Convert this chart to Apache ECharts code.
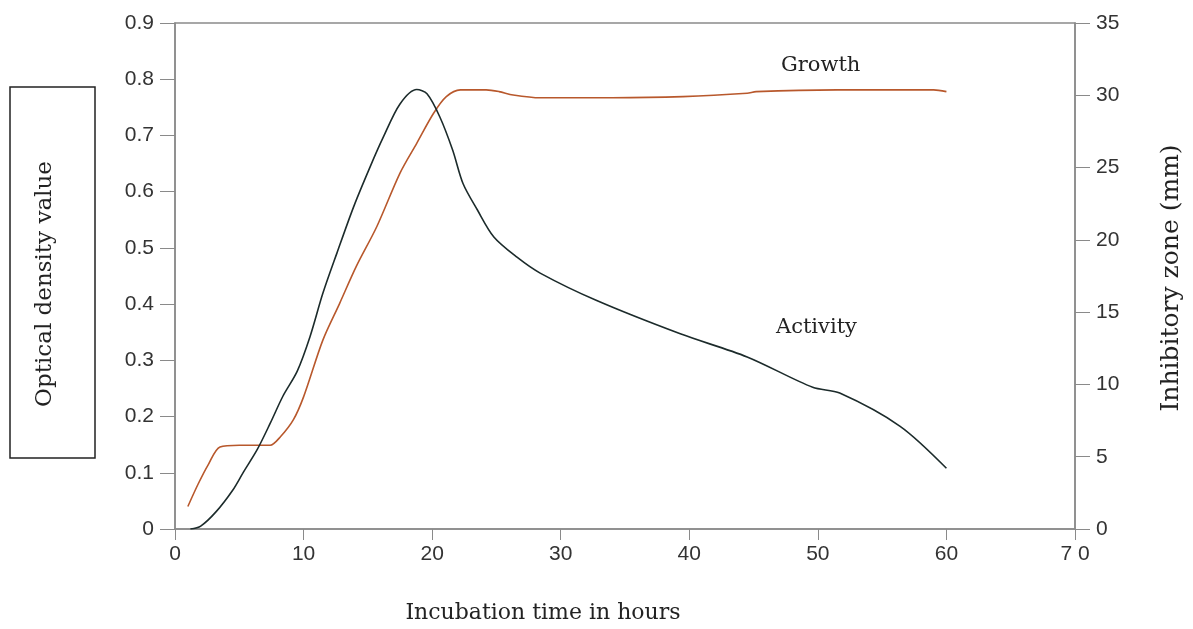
<!DOCTYPE html>
<html>
<head>
<meta charset="utf-8">
<script src="https://cdn.jsdelivr.net/npm/echarts@6/dist/echarts.min.js"></script>
<style>
  html, body { margin: 0; padding: 0; background: #fff; }
  #main { width: 1193px; height: 629px; }
</style>
</head>
<body>
<div id="main"></div>
<script>
// growth: optical density (left axis)
const growthHours = [1.0, 1.8, 2.6, 3.5, 5.0, 6.5, 7.4, 8.2, 9.2, 10.0, 11.5, 12.8, 14.1, 15.7, 17.5, 18.8, 20.1, 21.1, 22.2, 24.2, 25.2, 26.3, 28.4, 34.0, 39.5, 44.5, 45.2, 51.5, 59.0, 60.0]
const growthOD = [0.04, 0.08, 0.115, 0.146, 0.149, 0.149, 0.149, 0.164, 0.194, 0.235, 0.336, 0.401, 0.467, 0.538, 0.633, 0.686, 0.739, 0.769, 0.781, 0.781, 0.778, 0.772, 0.767, 0.767, 0.769, 0.775, 0.778, 0.781, 0.781, 0.778]

// activity: inhibitory zone in mm (right axis)
const activityHours = [1.2, 2.0, 3.2, 4.5, 5.3, 6.4, 7.4, 8.4, 9.5, 10.5, 11.5, 12.6, 13.9, 15.2, 16.2, 17.5, 18.8, 19.6, 20.6, 21.6, 22.4, 23.5, 24.8, 26.6, 28.4, 32.8, 39.3, 44.5, 49.6, 51.7, 56.4, 60.0]
const activityMM = [0, 0.2, 1.2, 2.7, 3.9, 5.5, 7.3, 9.2, 10.9, 13.3, 16.3, 19.1, 22.3, 25.1, 27.1, 29.4, 30.4, 30.1, 28.5, 26.2, 23.9, 22.1, 20.2, 18.8, 17.7, 15.8, 13.5, 11.9, 9.8, 9.4, 7.1, 4.2]

const xTicks = ['0', '10', '20', '30', '40', '50', '60', '7 0']

const pair = (xs, ys) => xs.map((x, i) => [x, ys[i]])

const chart = echarts.init(document.getElementById('main'))

const gray = '#8a8a8a'
const tickFont = {
  color: '#333',
  fontSize: 21,
  fontFamily: 'Liberation Sans, Arial, sans-serif'
}
const serif = 'DejaVu Serif, serif'

chart.setOption({
  animation: false,
  grid: {
    left: 175,
    right: 118,
    top: 23,
    bottom: 100,
    show: true,
    borderColor: gray,
    borderWidth: 1.5
  },
  xAxis: {
    type: 'value',
    min: 0,
    max: 70,
    interval: 10,
    name: 'Incubation time in hours',
    nameLocation: 'middle',
    nameGap: 73,
    nameTextStyle: { color: '#222', fontSize: 22, fontFamily: serif, padding: [0, 164, 0, 0] },
    axisLine: { lineStyle: { color: gray, width: 1.5 } },
    axisTick: { show: true, length: 11, lineStyle: { color: gray } },
    splitLine: { show: false },
    axisLabel: Object.assign({
      margin: 15,
      formatter: v => xTicks[Math.round(v / 10)]
    }, tickFont)
  },
  yAxis: [
    {
      type: 'value',
      min: 0,
      max: 0.9,
      interval: 0.1,
      position: 'left',
      name: 'Optical density value',
      nameLocation: 'middle',
      nameRotate: 90,
      nameGap: 118,
      nameTextStyle: { color: '#222', fontSize: 23, fontFamily: serif, padding: [0, 16, 0, 0] },
      axisLine: { show: true, lineStyle: { color: gray, width: 1.5 } },
      axisTick: { show: true, length: 15, lineStyle: { color: gray } },
      splitLine: { show: false },
      axisLabel: Object.assign({
        margin: 21,
        formatter: v => (v === 0 ? '0' : v.toFixed(1))
      }, tickFont)
    },
    {
      type: 'value',
      min: 0,
      max: 35,
      interval: 5,
      position: 'right',
      name: 'Inhibitory zone (mm)',
      nameLocation: 'middle',
      nameRotate: 90,
      nameGap: 84,
      nameTextStyle: { color: '#222', fontSize: 25, fontFamily: serif, padding: [0, 4, 0, 0] },
      axisLine: { show: true, lineStyle: { color: gray, width: 1.5 } },
      axisTick: { show: true, length: 15, lineStyle: { color: gray } },
      splitLine: { show: false },
      axisLabel: Object.assign({ margin: 21 }, tickFont)
    }
  ],
  graphic: [
    {
      type: 'rect',
      shape: { x: 10, y: 87, width: 85, height: 371 },
      style: { fill: 'none', stroke: '#222', lineWidth: 1.5 }
    },
    {
      type: 'text',
      left: 781,
      top: 55,
      style: { text: 'Growth', fill: '#222', font: '21px "DejaVu Serif", serif' }
    },
    {
      type: 'text',
      left: 776,
      top: 317,
      style: { text: 'Activity', fill: '#222', font: '21px "DejaVu Serif", serif' }
    }
  ],
  series: [
    {
      name: 'Growth',
      type: 'line',
      yAxisIndex: 0,
      data: pair(growthHours, growthOD),
      smooth: 0.3,
      symbol: 'none',
      lineStyle: { color: '#b8582c', width: 1.6 }
    },
    {
      name: 'Activity',
      type: 'line',
      yAxisIndex: 1,
      data: pair(activityHours, activityMM),
      smooth: 0.3,
      symbol: 'none',
      lineStyle: { color: '#1c2b2b', width: 1.6 }
    }
  ]
})
</script>
</body>
</html>
